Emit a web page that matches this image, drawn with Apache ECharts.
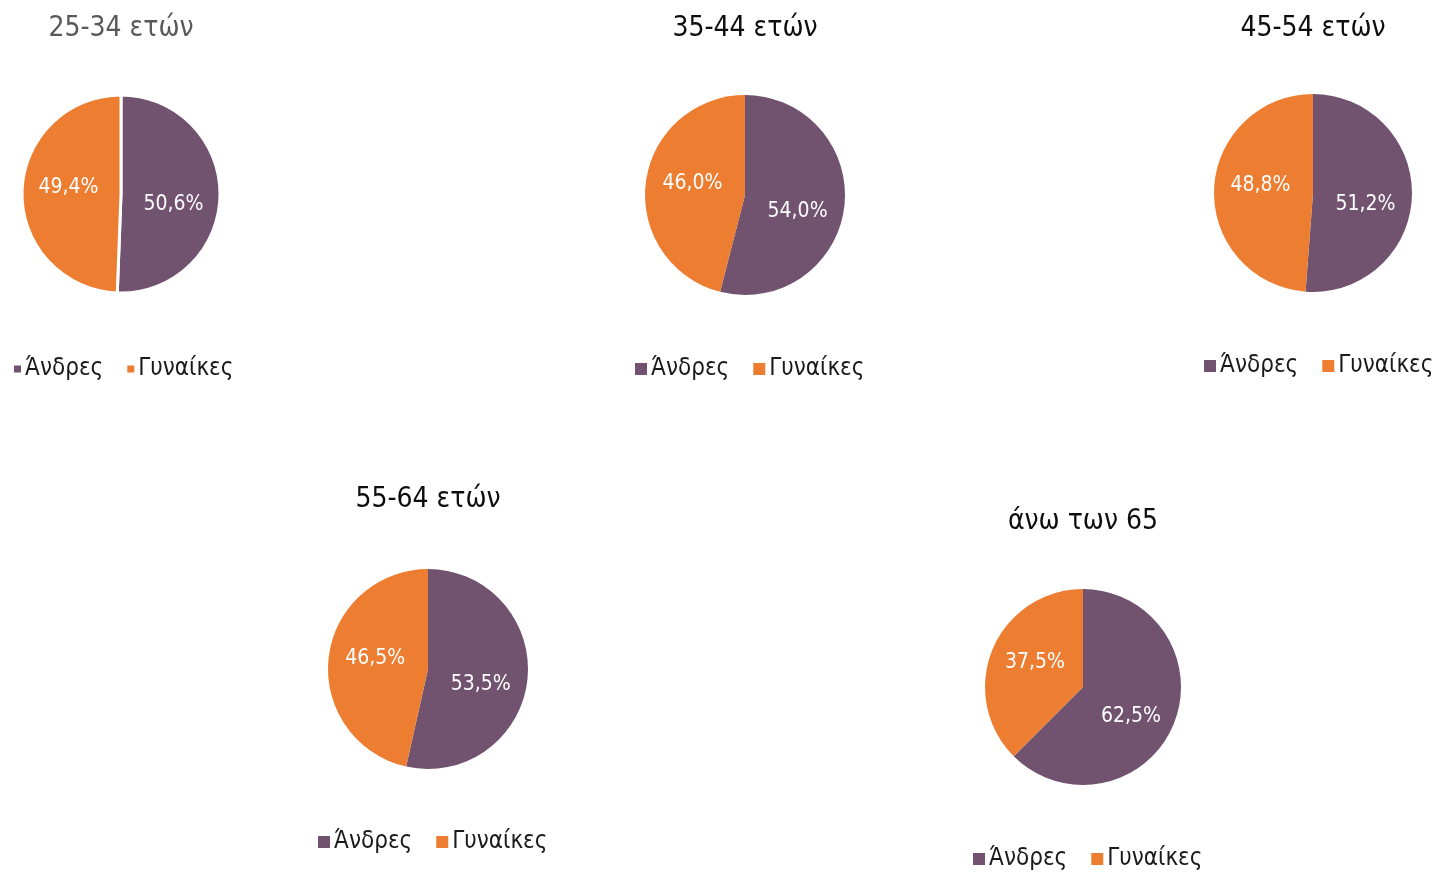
<!DOCTYPE html>
<html>
<head>
<meta charset="utf-8">
<script src="https://cdn.jsdelivr.net/npm/echarts@6/dist/echarts.min.js"></script>
<style>
  html, body { margin: 0; padding: 0; background: #fff; }
  #chart { width: 1441px; height: 872px; }
</style>
</head>
<body>
<div id="chart"></div>
<script>
// δεδομένα
const categories = ["Άνδρες", "Γυναίκες"];
const groups = ["25-34 ετών", "35-44 ετών", "45-54 ετών", "55-64 ετών", "άνω των 65"];
const men = [50.6, 54.0, 51.2, 53.5, 62.5];
const women = [49.4, 46.0, 48.8, 46.5, 37.5];

// διάταξη: κέντρο πίτας, ακτίνα, τίτλος, υπόμνημα
const layout = [
  { cx: 121, cy: 194, r: 99, ty: 26, lx: 12, ly: 367, icon: 9, titleColor: "#595959", border: 3 },
  { cx: 745, cy: 195, r: 100, ty: 26, lx: 633, ly: 367, icon: 14, titleColor: "#0d0d0d", border: 0 },
  { cx: 1313, cy: 193, r: 99, ty: 26, lx: 1202, ly: 364, icon: 14, titleColor: "#0d0d0d", border: 0 },
  { cx: 428, cy: 669, r: 100, ty: 497, lx: 316, ly: 840, icon: 14, titleColor: "#0d0d0d", border: 0 },
  { cx: 1083, cy: 687, r: 98, ty: 519, lx: 971, ly: 857, icon: 14, titleColor: "#0d0d0d", border: 0 }
];

const colors = ["#71536f", "#ed7d31"];
const FONT = "'DejaVu Sans Condensed', 'DejaVu Sans', sans-serif";

const chart = echarts.init(document.getElementById("chart"));

const titles = groups.map((g, i) => ({
  text: g,
  left: layout[i].cx,
  top: layout[i].ty - 11,
  textAlign: "center",
  padding: 0,
  textStyle: { fontFamily: FONT, fontSize: 28, fontWeight: "normal", color: layout[i].titleColor }
}));

const legends = groups.map((g, i) => ({
  data: categories,
  left: layout[i].lx,
  top: layout[i].ly - 10,
  padding: 0,
  icon: "rect",
  itemWidth: layout[i].icon,
  itemHeight: layout[i].icon,
  itemGap: 22,
  selectedMode: false,
  textStyle: { fontFamily: FONT, fontSize: 24, color: "#1a1a1a", padding: [0, 0, 0, -2] }
}));

const series = groups.map((g, i) => ({
  type: "pie",
  name: g,
  center: [layout[i].cx, layout[i].cy],
  radius: [0, layout[i].r],
  startAngle: 90,
  clockwise: true,
  silent: true,
  itemStyle: { borderColor: "#fff", borderWidth: layout[i].border },
  label: {
    show: true,
    position: "inside",
    color: "#fff",
    fontFamily: FONT,
    fontSize: 21,
    formatter: p => p.value.toFixed(1).replace(".", ",") + "%"
  },
  labelLine: { show: false },
  labelLayout: p => ({ dy: p.dataIndex === 0 ? 10 : -5 }),
  data: [
    { name: categories[0], value: men[i] },
    { name: categories[1], value: women[i] }
  ]
}));

chart.setOption({
  color: colors,
  animation: false,
  title: titles,
  legend: legends,
  series: series
});
</script>
</body>
</html>
